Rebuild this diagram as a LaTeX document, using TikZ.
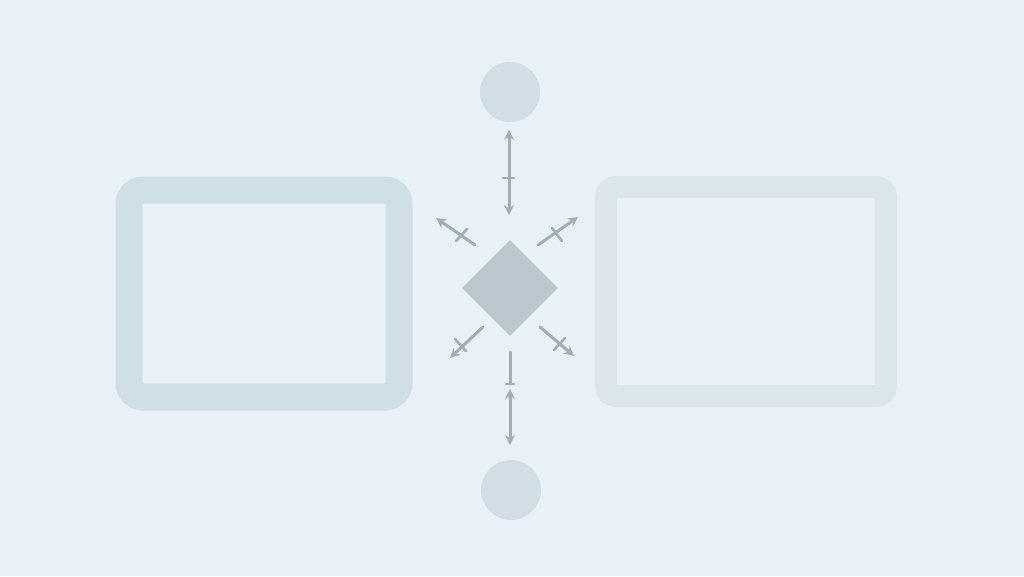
\documentclass[tikz,border=0pt]{standalone}
\usetikzlibrary{arrows.meta,shapes.geometric}
\definecolor{bg}{HTML}{E8F1F6}
\definecolor{boxA}{HTML}{D0DEE6}
\definecolor{boxB}{HTML}{DAE6EC}
\definecolor{dot}{HTML}{D1DEE6}
\definecolor{dia}{HTML}{BCC8D0}
\definecolor{arr}{HTML}{A3ADB5}
\tikzset{
  frameA/.style={draw=boxA,line width=27pt,rounded corners=14pt},
  frameB/.style={draw=boxB,line width=22pt,rounded corners=10pt},
  dotnode/.style={circle,fill=dot,minimum size=60pt,inner sep=0pt},
  dianode/.style={diamond,fill=dia,minimum size=96pt,inner sep=0pt},
  conn/.style={draw=arr,line width=3pt,line cap=round},
  tick/.style={draw=arr,line width=2.6pt,line cap=round},
  hd/.tip={Stealth[length=10pt,width=10pt]},
}
\begin{document}
\begin{tikzpicture}[x=1pt,y=-1pt]
\fill[bg] (0,0) rectangle (1024,576);
\useasboundingbox (0,0) rectangle (1024,576);
\draw[frameA] (129,190) rectangle (399,397);
\draw[frameB] (606,187) rectangle (886,396);
\node[dotnode] (top) at (510,92) {};
\node[dotnode] (bot) at (511,490) {};
\node[dianode] (d) at (510,288) {};
% vertical top
\coordinate (t1) at (509,130);
\coordinate (t2) at (509,215);
\draw[conn,hd-hd] (t1) -- (t2);
\draw[tick] (503,178) -- (514,178);
% vertical bottom
\coordinate (b0) at (510,352);
\coordinate (b1) at (510,384);
\coordinate (b2) at (510,389);
\coordinate (b3) at (510,445);
\draw[conn] (b0) -- (b1);
\draw[tick] (506,384) -- (514,384);
\draw[conn,hd-hd] (b2) -- (b3);
% diagonals
\coordinate (ul1) at (475,245); \coordinate (ul2) at (436,218);
\draw[conn,-hd] (ul1) -- (ul2);
\draw[tick] (456,241) -- (467,229);
\coordinate (ur1) at (538,245); \coordinate (ur2) at (578,217);
\draw[conn,-hd] (ur1) -- (ur2);
\draw[tick] (552,228) -- (562,241);
\coordinate (ll1) at (483,327); \coordinate (ll2) at (450,358);
\draw[conn,-hd] (ll1) -- (ll2);
\draw[tick] (455,339) -- (466,351);
\coordinate (lr1) at (540,327); \coordinate (lr2) at (574,356);
\draw[conn,-hd] (lr1) -- (lr2);
\draw[tick] (554,350) -- (565,338);
\end{tikzpicture}
\end{document}
